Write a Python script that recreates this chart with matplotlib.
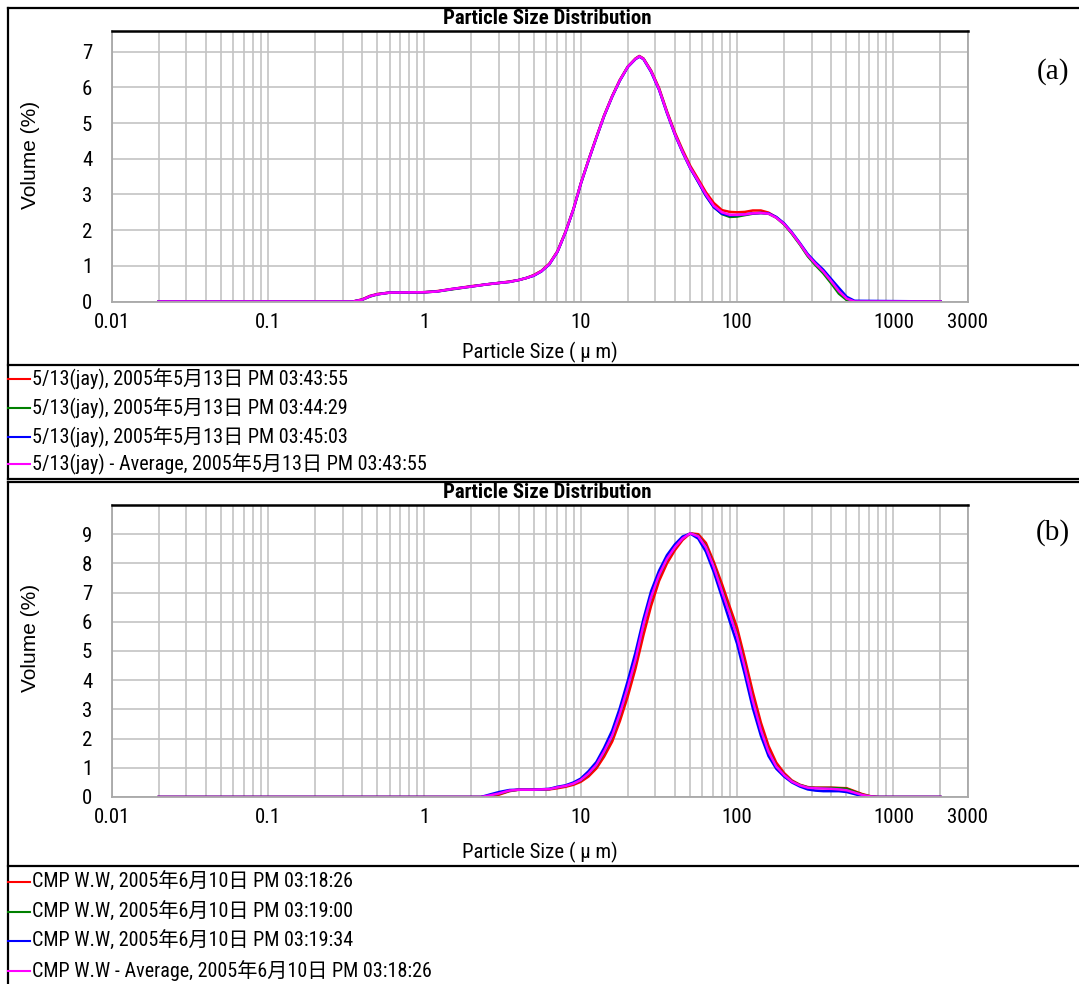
import matplotlib
matplotlib.use('Agg')
import matplotlib.pyplot as plt
from matplotlib import font_manager
from matplotlib.lines import Line2D
from matplotlib.ticker import FixedLocator, NullFormatter

W, H = 1079, 984

# ---- panel (a) ----
size_a = [0.02, 0.35, 0.40, 0.45, 0.50, 0.60, 1.0, 1.2, 1.5, 2.0,
          2.5, 3.0, 3.5, 4.0, 4.5, 5.0, 5.6, 6.3, 7.1, 8.0,
          9.0, 10.0, 11.2, 12.6, 14.1, 15.9, 17.8, 20.0, 22.4, 23.7, 25.2,
          28.2, 31.7, 35.6, 40.0, 44.8, 50.2, 56.4, 63.2, 71.0, 80.0,
          90.0, 100, 112, 126, 142, 159, 178, 200, 224, 252,
          283, 317, 356, 400, 448, 503, 564, 2000]
red_a = [0, 0, 0.06, 0.16, 0.21, 0.25, 0.26, 0.29, 0.35, 0.43,
         0.48, 0.52, 0.56, 0.60, 0.66, 0.74, 0.86, 1.06, 1.41, 1.96,
         2.60, 3.30, 3.96, 4.61, 5.21, 5.76, 6.21, 6.58, 6.81, 6.88, 6.81,
         6.47, 5.98, 5.33, 4.74, 4.25, 3.80, 3.43, 3.06, 2.76, 2.56,
         2.51, 2.50, 2.51, 2.55, 2.55, 2.49, 2.36, 2.17, 1.92, 1.62,
         1.30, 1.06, 0.84, 0.56, 0.28, 0.07, 0.0, 0.0]
green_a = [0, 0, 0.05, 0.14, 0.20, 0.25, 0.26, 0.28, 0.34, 0.42,
           0.48, 0.52, 0.55, 0.60, 0.66, 0.73, 0.85, 1.05, 1.40, 1.95,
           2.60, 3.30, 3.95, 4.60, 5.20, 5.75, 6.20, 6.58, 6.80, 6.87, 6.80,
           6.45, 5.95, 5.30, 4.70, 4.20, 3.75, 3.36, 2.97, 2.65, 2.45,
           2.37, 2.38, 2.42, 2.46, 2.48, 2.46, 2.35, 2.16, 1.90, 1.60,
           1.27, 1.02, 0.79, 0.51, 0.22, 0.04, 0.0, 0.0]
blue_a = [0, 0, 0.05, 0.15, 0.20, 0.25, 0.26, 0.28, 0.35, 0.42,
          0.48, 0.52, 0.55, 0.60, 0.66, 0.72, 0.84, 1.04, 1.39, 1.94,
          2.59, 3.29, 3.94, 4.59, 5.19, 5.74, 6.19, 6.57, 6.79, 6.86, 6.79,
          6.43, 5.93, 5.28, 4.68, 4.18, 3.73, 3.35, 2.96, 2.64, 2.46,
          2.41, 2.42, 2.44, 2.47, 2.48, 2.47, 2.37, 2.19, 1.94, 1.64,
          1.33, 1.10, 0.89, 0.63, 0.38, 0.13, 0.02, 0.0]
avg_a = [0, 0, 0.05, 0.15, 0.20, 0.25, 0.26, 0.28, 0.35, 0.42,
         0.48, 0.52, 0.55, 0.60, 0.66, 0.73, 0.85, 1.05, 1.40, 1.95,
         2.60, 3.30, 3.95, 4.60, 5.20, 5.75, 6.20, 6.58, 6.80, 6.87, 6.80,
         6.45, 5.95, 5.30, 4.70, 4.20, 3.75, 3.38, 3.00, 2.68, 2.50,
         2.43, 2.43, 2.44, 2.47, 2.48, 2.46, 2.35, 2.17, 1.92, 1.62,
         1.30, 1.06, 0.84, 0.57, 0.29, 0.08, 0.0, 0.0]
labels_a = ['5/13(jay), 2005年5月13日 PM 03:43:55',
            '5/13(jay), 2005年5月13日 PM 03:44:29',
            '5/13(jay), 2005年5月13日 PM 03:45:03',
            '5/13(jay) - Average, 2005年5月13日 PM 03:43:55']

# ---- panel (b) ----
size_b = [0.02, 2.3, 2.6, 3.0, 3.5, 4.0, 5.0, 6.3, 7.1, 8.0,
          9.0, 10.0, 11.2, 12.6, 14.1, 15.9, 17.8, 20.0, 22.4, 25.2,
          28.2, 31.7, 35.6, 40.0, 44.8, 50.2, 56.4, 63.2, 71.0, 80.0,
          90.0, 100, 112, 126, 142, 159, 178, 200, 224, 252,
          283, 317, 356, 400, 448, 503, 564, 632, 710, 797, 2000]
red_b = [0, 0, 0, 0.08, 0.20, 0.25, 0.25, 0.26, 0.30, 0.35,
         0.42, 0.52, 0.70, 0.98, 1.38, 1.90, 2.60, 3.45, 4.40, 5.55,
         6.55, 7.40, 8.00, 8.45, 8.80, 9.03, 9.00, 8.70, 8.05, 7.30,
         6.50, 5.80, 4.75, 3.60, 2.55, 1.75, 1.18, 0.82, 0.57, 0.42,
         0.34, 0.32, 0.32, 0.32, 0.31, 0.30, 0.20, 0.10, 0.03, 0, 0]
green_b = [0, 0, 0.04, 0.11, 0.21, 0.25, 0.25, 0.27, 0.33, 0.38,
           0.46, 0.57, 0.79, 1.08, 1.52, 2.07, 2.82, 3.72, 4.68, 5.88,
           6.83, 7.58, 8.14, 8.55, 8.86, 9.03, 8.95, 8.58, 7.92, 7.10,
           6.30, 5.55, 4.50, 3.33, 2.32, 1.57, 1.06, 0.76, 0.54, 0.41,
           0.33, 0.31, 0.31, 0.31, 0.30, 0.28, 0.18, 0.08, 0.02, 0, 0]
blue_b = [0, 0, 0.08, 0.17, 0.24, 0.25, 0.25, 0.28, 0.35, 0.40,
          0.50, 0.63, 0.88, 1.20, 1.68, 2.28, 3.05, 3.98, 4.95, 6.10,
          7.05, 7.75, 8.28, 8.65, 8.92, 9.02, 8.85, 8.40, 7.70, 6.85,
          6.00, 5.25, 4.20, 3.05, 2.10, 1.40, 0.97, 0.70, 0.50, 0.36,
          0.26, 0.22, 0.20, 0.20, 0.20, 0.17, 0.10, 0.03, 0, 0, 0]
avg_b = [0, 0, 0.05, 0.12, 0.22, 0.25, 0.25, 0.27, 0.33, 0.38,
         0.46, 0.58, 0.80, 1.10, 1.55, 2.10, 2.85, 3.75, 4.70, 5.90,
         6.85, 7.60, 8.15, 8.55, 8.85, 9.03, 8.93, 8.55, 7.88, 7.05,
         6.25, 5.50, 4.45, 3.30, 2.30, 1.55, 1.05, 0.75, 0.53, 0.40,
         0.32, 0.30, 0.29, 0.28, 0.26, 0.23, 0.15, 0.07, 0.02, 0, 0]
labels_b = ['CMP W.W, 2005年6月10日 PM 03:18:26',
            'CMP W.W, 2005年6月10日 PM 03:19:00',
            'CMP W.W, 2005年6月10日 PM 03:19:34',
            'CMP W.W - Average, 2005年6月10日 PM 03:18:26']

x_major = [0.01, 0.1, 1, 10, 100, 1000, 3000]
x_major_labels = ['0.01', '0.1', '1', '10', '100', '1000', '3000']
x_grid = [m * 10.0**e for e in range(-2, 4) for m in range(1, 10)] + [1000, 2000, 3000]

colors = ['#ff0000', '#008000', '#0000ff', '#ff00ff']
GRID = '#c4c4c4'

# narrow font if one is installed, otherwise Arial-metric Liberation Sans a bit smaller
installed = {f.name for f in font_manager.fontManager.ttflist}
narrow_name = None
for cand in ['Liberation Sans Narrow', 'Roboto Condensed', 'Open Sans Condensed']:
    if cand in installed:
        narrow_name = cand
        break
if narrow_name:
    NARROW = [narrow_name, 'Noto Sans CJK TC', 'DejaVu Sans']
    fs_tick, fs_leg, fs_title = 15, 14.5, 15
else:
    NARROW = ['Liberation Sans', 'Noto Sans CJK TC', 'DejaVu Sans']
    fs_tick, fs_leg, fs_title = 13.5, 13.5, 13
SANS = ['Liberation Sans', 'DejaVu Sans']

fig = plt.figure(figsize=(W / 100, H / 100), dpi=100)


def fx(px):
    return px / W


def fy(py):
    return 1 - py / H


def hline(y, x0=8, x1=W):
    fig.add_artist(Line2D([fx(x0), fx(x1)], [fy(y), fy(y)], color='black', lw=1.6))


def vline(x, y0, y1):
    fig.add_artist(Line2D([fx(x), fx(x)], [fy(y0), fy(y1)], color='black', lw=1.6))


def panel(series, labels, ymax, yticks, top, bottom, box_top, sep, leg_ys,
          leg_bottom, tag, tag_y, xlab_y, ylab_y):
    ax = fig.add_axes([fx(111.7), fy(bottom), fx(968) - fx(111.7), (bottom - top) / H])
    size = series[0]
    for vals, c in zip(series[1:], colors):
        ax.plot(size, vals, color=c, lw=1.8)
    ax.set_xscale('log')
    ax.set_xlim(0.01, 3000)
    ax.set_ylim(0, ymax)
    ax.xaxis.set_major_locator(FixedLocator(x_major))
    ax.set_xticklabels(x_major_labels)
    ax.xaxis.set_minor_locator(FixedLocator(x_grid))
    ax.xaxis.set_minor_formatter(NullFormatter())
    ax.set_yticks(yticks)
    ax.set_yticklabels([str(v) for v in yticks])
    ax.grid(True, which='both', axis='x', color=GRID, lw=1.2)
    ax.grid(True, which='major', axis='y', color=GRID, lw=1.2)
    ax.set_axisbelow(True)
    ax.tick_params(which='both', length=0)
    ax.tick_params(axis='x', pad=8)
    ax.tick_params(axis='y', pad=14)
    for lab in ax.get_xticklabels() + ax.get_yticklabels():
        lab.set_family(NARROW)
        lab.set_fontsize(fs_tick)
    for s in ['left', 'bottom', 'right']:
        ax.spines[s].set_color('#a8a8a8')
        ax.spines[s].set_linewidth(1.3)
    ax.spines['top'].set_color('black')
    ax.spines['top'].set_linewidth(1.8)
    fig.text(fx(30), fy(ylab_y), 'Volume (%)', rotation=90, ha='center',
             va='center', family=SANS, fontsize=15)
    fig.text(fx(540), fy(xlab_y), 'Particle Size ( μ m)', ha='center', va='center',
             family=NARROW, fontsize=fs_tick)
    fig.text(fx(547), fy(box_top + 11), 'Particle Size Distribution', ha='center',
             va='center', family=NARROW, fontsize=fs_title, fontweight='bold')
    fig.text(fx(1053), fy(tag_y), tag, ha='center', va='center',
             family=['Liberation Serif', 'DejaVu Serif'], fontsize=21)
    # frame lines
    hline(box_top)
    vline(8, box_top, leg_bottom if leg_bottom else H)
    hline(sep)
    if leg_bottom:
        hline(leg_bottom)
    for y, c, lab in zip(leg_ys, colors, labels):
        fig.add_artist(Line2D([fx(8), fx(30)], [fy(y), fy(y)], color=c, lw=1.5))
        fig.text(fx(32), fy(y), lab, ha='left', va='center', family=NARROW, fontsize=fs_leg)
    return ax


panel([size_a, red_a, green_a, blue_a, avg_a], labels_a, 7.58, list(range(8)),
      31, 301.5, 8, 365, [379, 408, 437, 464], 479, '(a)', 72, 352, 155)
panel([size_b, red_b, green_b, blue_b, avg_b], labels_b, 10.0, list(range(10)),
      505, 797, 482, 866, [882, 911.5, 941, 970.5], None, '(b)', 533, 852, 638)

fig.savefig('out.png', dpi=100)
